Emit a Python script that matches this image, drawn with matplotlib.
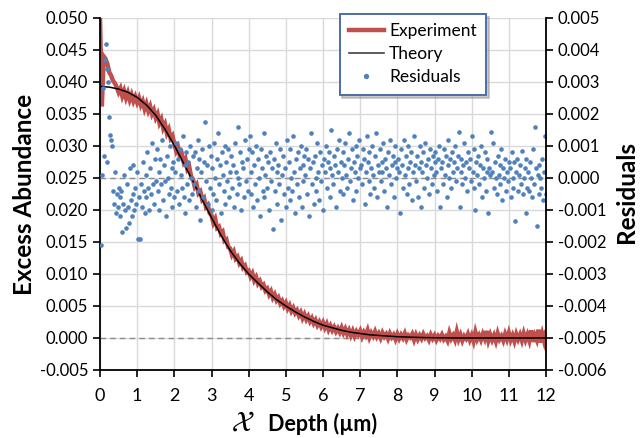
import numpy as np
import matplotlib
matplotlib.use("Agg")
import matplotlib.pyplot as plt
from matplotlib.lines import Line2D
from matplotlib.ticker import FormatStrFormatter, MultipleLocator

plt.rcParams["font.family"] = ["Lato", "DejaVu Sans"]
plt.rcParams["axes.unicode_minus"] = False

RED = "#c0504d"
BLUE = "#4f81bd"

# measured excess abundance, one value every 0.05 um from 0 to 12
exp_step = 0.05
experiment = [
    0.0500, 0.0362, 0.0440, 0.0436, 0.0428, 0.0415, 0.0410, 0.0402, 0.0398, 0.0392,
    0.0384, 0.0390, 0.0378, 0.0386, 0.0375, 0.0383, 0.0372, 0.0380, 0.0370, 0.0377,
    0.0368, 0.0375, 0.0364, 0.0370, 0.0358, 0.0366, 0.0355, 0.0362, 0.0350, 0.0356,
    0.0344, 0.0350, 0.0336, 0.0342, 0.0328, 0.0334, 0.0320, 0.0326, 0.0312, 0.0316,
    0.0303, 0.0292, 0.0298, 0.0284, 0.0288, 0.0275, 0.0280, 0.0264, 0.0268, 0.0253,
    0.0248, 0.0236, 0.0240, 0.0226, 0.0229, 0.0216, 0.0219, 0.0205, 0.0208, 0.0195,
    0.0192, 0.0180, 0.0186, 0.0172, 0.0174, 0.0163, 0.0166, 0.0152, 0.0154, 0.0142,
    0.0140, 0.0130, 0.0135, 0.0124, 0.0127, 0.0117, 0.0121, 0.0110, 0.0113, 0.0103,
    0.0105, 0.0096, 0.0101, 0.0090, 0.0095, 0.0085, 0.0089, 0.0080, 0.0083, 0.0074,
    0.0077, 0.0068, 0.0073, 0.0063, 0.0068, 0.0059, 0.0063, 0.0054, 0.0058, 0.0050,
    0.0055, 0.0046, 0.0051, 0.0042, 0.0047, 0.0039, 0.0043, 0.0035, 0.0040, 0.0031,
    0.0037, 0.0029, 0.0034, 0.0026, 0.0031, 0.0023, 0.0028, 0.0020, 0.0025, 0.0018,
    0.0024, 0.0016, 0.0022, 0.0013, 0.0019, 0.0012, 0.0017, 0.0010, 0.0015, 0.0009,
    0.0016, 0.0008, 0.0014, 0.0006, 0.0012, 0.0004, 0.0011, 0.0003, 0.0010, 0.0005,
    0.0011, 0.0002, 0.0009, 0.0004, 0.0012, 0.0001, 0.0008, 0.0003, 0.0010, 0.0002,
    0.0007, 0.0000, 0.0008, 0.0002, 0.0006, -0.0001, 0.0007, 0.0001, 0.0005, -0.0002,
    0.0006, -0.0001, 0.0005, 0.0000, 0.0007, -0.0002, 0.0004, 0.0001, 0.0006, -0.0003,
    0.0005, -0.0002, 0.0004, -0.0001, 0.0006, 0.0000, 0.0003, -0.0003, 0.0005, -0.0001,
    0.0004, -0.0003, 0.0003, -0.0001, 0.0005, -0.0002, 0.0002, -0.0004, 0.0008, -0.0001,
    0.0004, -0.0003, 0.0010, -0.0002, 0.0005, -0.0004, 0.0003, -0.0001, 0.0006, -0.0003,
    0.0004, -0.0005, 0.0009, -0.0002, 0.0004, -0.0003, 0.0006, -0.0001, 0.0011, -0.0004,
    0.0005, -0.0003, 0.0004, -0.0005, 0.0007, -0.0002, 0.0003, -0.0004, 0.0006, -0.0002,
    0.0008, -0.0003, 0.0004, -0.0005, 0.0006, -0.0002, 0.0005, -0.0004, 0.0007, -0.0003,
    0.0005, -0.0004, 0.0012, -0.0006, 0.0004, -0.0003, 0.0013, -0.0007, 0.0006, -0.0005,
    0.0009,
]

# fitted theory curve, every 0.25 um
theory_step = 0.25
theory = [
    0.0393, 0.0392, 0.0389, 0.0384, 0.0376, 0.0364, 0.0348, 0.0326,
    0.0301, 0.0273, 0.0245, 0.0216, 0.0188, 0.0161, 0.0137, 0.0117,
    0.0100, 0.0086, 0.0072, 0.0060, 0.0050, 0.0041, 0.0033, 0.0026,
    0.0020, 0.0016, 0.0012, 0.0009, 0.0007, 0.0005, 0.0004, 0.0003,
    0.0002, 0.00015, 0.0001, 0.00006, 0.00004, 0.00002, 0.00001, 0.0,
    0.0, 0.0, 0.0, 0.0, 0.0, 0.0, 0.0, 0.0, 0.0,
]

# residuals in units of 0.001, one every 0.025 um from 0.025 to 12
res_step = 0.025
residuals_milli = [
    -2.1, 0.1, 2.8, 0.7, 3.7, 4.2, 3.4, 0.5, 3.0, 1.9, 1.35, 1.2, 1.0, -0.4, -0.8, 0.2, -1.1, -0.5, -0.9, -0.3,
    -0.6, -1.2, -0.4, -1.7, -0.8, 0.1, -1.0, -1.55, -0.2, -0.9, -1.4, 0.3, -0.7, -1.2, -0.5, 0.4, -1.0, -0.3, -0.8, 0.2,
    -1.9, -0.6, -1.9, -0.2, -0.9, 0.5, -0.4, -1.1, 0.1, -0.6, 0.8, -0.3, -1.0, 0.3, -0.5, 1.1, -0.2, -0.8, 0.6, -0.1,
    0.9, -0.4, 0.2, -1.0, 0.6, -0.2, 1.2, -0.7, 0.4, -0.1, -1.2, 0.7, 0.0, -0.5, 1.0, -0.3, 0.3, -0.9, 0.5, -0.6,
    0.2, 1.1, -0.4, 0.6, -0.8, 0.9, 0.1, -0.3, 1.3, -0.6, 0.4, -1.1, 0.8, -0.2, 0.5, -0.7, 1.0, 0.0, -0.5, 0.7,
    -0.2, 0.8, -0.9, 0.3, 1.2, -0.4, 0.6, -1.3, 0.2, 0.9, -0.6, 0.5, 1.75, -0.1, 0.4, -0.8, 1.0, -0.3, 0.7, -1.0,
    0.3, -0.5, 1.1, 0.0, -0.7, 0.6, 1.4, -0.2, 0.4, -1.1, 0.8, 0.1, -0.4, 1.0, -0.8, 0.5, -0.1, 0.9, -0.6, 0.2,
    0.7, -0.3, 0.4, -0.9, 1.1, 0.2, -0.5, 1.6, 0.0, -0.2, 0.8, -1.0, 0.5, 0.3, -0.6, 1.2, -0.1, 0.6, -0.4, 0.9,
    1.3, -0.5, 0.2, 0.8, -0.9, 0.4, -0.2, 1.0, -0.7, 0.6, 0.0, -1.2, 0.9, 0.3, -0.4, 1.4, -0.6, 0.1, 0.7, -0.3,
    0.5, -1.0, 0.8, -0.1, 0.3, -1.6, 0.6, -0.4, 1.1, 0.2, -0.8, 0.4, -0.2, 0.9, -1.3, 0.1, 0.7, -0.5, 0.3, -0.9,
    1.2, -0.3, 0.5, -0.7, 0.9, 0.0, -0.4, 1.3, 0.2, -1.1, 0.6, -0.2, 0.8, -0.6, 0.3, 1.0, -0.9, 0.4, -0.1, 0.7,
    0.1, 0.9, -0.5, 0.6, -1.2, 0.3, 1.4, -0.2, 0.5, -0.8, 0.7, 0.0, -0.4, 1.1, 0.2, -0.7, 0.8, -0.1, 0.4, -1.0,
    0.6, 0.2, 1.0, -0.3, 0.5, 0.8, -0.6, 0.3, 1.5, 0.1, -0.2, 0.7, 0.4, -0.9, 0.9, 0.2, 1.2, -0.4, 0.5, 0.0,
    0.8, -0.5, 0.4, 1.1, 0.1, -0.3, 0.6, 1.4, -0.1, 0.3, 0.9, -0.7, 0.5, 0.2, 1.0, -0.4, 0.7, 0.0, 1.2, 0.3,
    0.4, -0.2, 0.9, 0.6, -0.8, 0.2, 1.3, 0.5, -0.1, 0.8, -0.5, 0.3, 1.0, 0.1, -0.3, 0.7, 1.4, -0.6, 0.4, 0.2,
    0.9, -0.1, 0.5, 0.2, 1.1, -0.4, 0.6, 0.3, -0.9, 0.8, 0.1, 1.2, -0.2, 0.4, 0.7, -0.6, 0.5, 1.0, 0.0, 0.3,
    0.6, 0.2, -1.1, 0.9, 0.4, -0.3, 1.2, 0.1, 0.7, -0.5, 0.3, 1.0, -0.2, 0.5, 0.8, -0.7, 0.2, 1.3, 0.4, -0.1,
    0.7, -0.6, 0.3, 1.0, 0.5, -0.9, 0.2, 0.8, -0.3, 1.1, 0.4, 0.0, 0.6, -0.5, 0.9, 0.3, -0.2, 0.7, 0.1, 0.5,
    0.8, 0.2, -0.4, 0.6, 1.0, -0.9, 0.3, 0.5, -0.2, 0.9, 0.1, 0.7, -0.6, 0.4, 1.2, 0.0, 0.6, -0.3, 0.8, 0.2,
    0.5, 1.0, -0.1, 0.3, 0.7, 1.45, -0.9, 0.2, 0.6, -0.2, 0.4, 1.1, 0.0, 0.5, -0.4, 0.8, 0.3, 0.6, -0.1, 1.3,
    0.2, -0.3, 0.9, -1.0, 0.5, 0.1, 0.7, -0.2, 0.4, 1.0, -0.6, 0.3, 0.0, 0.8, -0.4, 0.2, 0.6, -1.1, 0.3, 0.1,
    1.45, 0.2, 1.1, -0.3, 0.5, 0.0, -0.5, 0.7, 0.1, -0.2, 0.4, 0.9, -0.7, 0.3, 0.0, 0.6, -0.4, 0.2, -0.1, 0.5,
    0.3, -0.6, 0.8, 0.0, -0.3, 0.5, -1.35, 0.2, 0.6, -0.4, 0.1, 0.4, -0.2, 0.85, -0.5, 0.0, 0.3, -1.1, 0.6, -0.3,
    0.2, -0.4, 0.5, 0.0, -0.6, 0.9, -0.2, 1.6, 0.3, -1.5, 0.1, -0.5, 0.4, 0.0, -0.3, 0.6, -0.7, 0.2, 1.3, -0.5,
]

x_exp = np.arange(len(experiment)) * exp_step
x_theory = np.arange(len(theory)) * theory_step
x_res = (np.arange(len(residuals_milli)) + 1) * res_step
residuals = np.array(residuals_milli) * 1e-3

fig = plt.figure(figsize=(6.41, 4.38), dpi=100)
ax = fig.add_axes([100 / 641, 1 - 370 / 438, 446 / 641, 352 / 438])
ax2 = ax.twinx()

ax.set_axisbelow(True)
ax.grid(True, color="#d9d9d9", linewidth=1.0)
ax.axhline(0, color="#8c8c8c", linestyle=(0, (4, 3)), linewidth=1.0, zorder=1)
ax.plot(x_exp, experiment, color=RED, linewidth=3.2, solid_joinstyle="miter", zorder=2)
ax.plot(x_theory, theory, color="black", linewidth=1.1, zorder=3)

ax2.axhline(0, color="#8c8c8c", linestyle=(0, (4, 3)), linewidth=1.0, zorder=1)
ax2.scatter(x_res, residuals, s=11, color=BLUE, linewidths=0, zorder=2)

ax.set_xlim(0, 12)
ax.set_ylim(-0.005, 0.050)
ax2.set_ylim(-0.006, 0.005)
ax.xaxis.set_major_locator(MultipleLocator(1))
ax.yaxis.set_major_locator(MultipleLocator(0.005))
ax2.yaxis.set_major_locator(MultipleLocator(0.001))
ax.yaxis.set_major_formatter(FormatStrFormatter("%.3f"))
ax2.yaxis.set_major_formatter(FormatStrFormatter("%.3f"))

for a in (ax, ax2):
    a.spines["top"].set_visible(False)
    a.tick_params(labelsize=12, width=1.2, length=5, direction="out", colors="black")
ax.spines["right"].set_visible(False)
ax2.spines["left"].set_visible(False)
ax2.spines["bottom"].set_visible(False)
for s in ("left", "bottom"):
    ax.spines[s].set_linewidth(1.3)
ax2.spines["right"].set_linewidth(1.3)
ax.tick_params(axis="x", labelsize=13, pad=8)

fig.text(25 / 641, 1 - 194 / 438, "Excess Abundance", rotation=90, ha="center",
         va="center", fontsize=17.5, fontweight="bold")
fig.text(626 / 641, 1 - 192 / 438, "Residuals", rotation=90, ha="center",
         va="center", fontsize=17.5, fontweight="bold")
fig.text(243 / 641, 1 - 423 / 438, r"$\mathcal{X}$", ha="center", va="center",
         fontsize=21, math_fontfamily="stix")
fig.text(268 / 641, 1 - 424 / 438, "Depth (µm)", ha="left", va="center",
         fontsize=15.5, fontweight="bold")

handles = [
    Line2D([], [], color=RED, linewidth=3.2),
    Line2D([], [], color="#404040", linewidth=1.2),
    Line2D([], [], color=BLUE, marker="o", markersize=2.8, linestyle="none"),
]
leg = ax2.legend(handles, ["Experiment", "Theory", "Residuals"], loc="upper left",
                 bbox_to_anchor=(0.537, 1.012), borderaxespad=0, fontsize=12.5,
                 frameon=True, fancybox=False, handlelength=2.0, handletextpad=0.3,
                 borderpad=0.55, labelspacing=0.4, framealpha=1.0,
                 shadow={"color": "0.6", "alpha": 0.5})
leg.get_frame().set_edgecolor("#4a6fa5")
leg.get_frame().set_linewidth(1.4)
leg.set_zorder(10)

fig.savefig("out.png", dpi=100)
